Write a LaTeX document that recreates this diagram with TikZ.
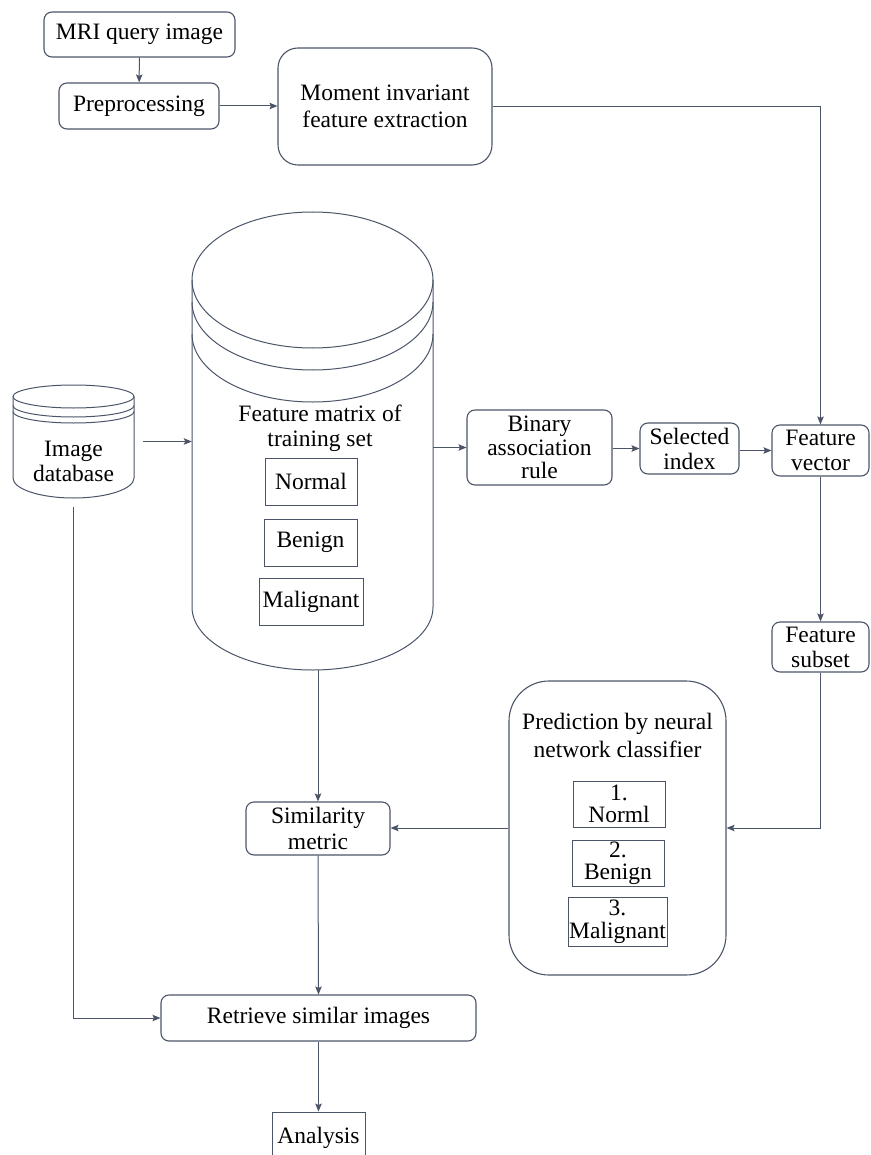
\documentclass[tikz,border=0pt]{standalone}
\usepackage{fontspec}
\setmainfont{Liberation Serif}
\newfontfamily\tnr{Liberation Serif}
\usetikzlibrary{arrows.meta}
\definecolor{ln}{HTML}{4B5567}
\begin{document}
\begin{tikzpicture}[x=1pt,y=-1pt,
  every node/.style={font=\tnr\fontsize{23.5}{25}\selectfont, inner sep=0pt, align=center},
  rbox/.style={draw=ln, line width=1.1pt, rounded corners=8pt},
  sbox/.style={draw=ln, line width=0.9pt},
  conn/.style={draw=ln, line width=1pt},
  arr/.style={conn, -{Stealth[length=8pt,width=6.5pt,inset=1.5pt]}},
  shp/.style={draw=ln, line width=1pt}]
\useasboundingbox (0,0) rectangle (870,1155);
\clip (0,0) rectangle (870,1155);

% top row
\node[rbox, minimum width=191pt, minimum height=45pt] (mri) at (139.5,34.5) {MRI query image};
\node[rbox, minimum width=160pt, minimum height=46pt] (pre) at (139,106) {Preprocessing};
\node[rbox, rounded corners=20pt, minimum width=214pt, minimum height=117pt, font=\tnr\fontsize{23.5}{27}\selectfont] (mom) at (385,106.5) {Moment invariant\\feature extraction};

% big cylinder
\node[minimum width=241pt, minimum height=458pt] (fm) at (312.5,441) {};
\draw[shp] (312.5,280) ellipse[x radius=120.5pt, y radius=68pt];
\draw[shp] (192,302) arc[start angle=180, end angle=360, x radius=120.5pt, y radius=68pt];
\draw[shp] (192,334) arc[start angle=180, end angle=360, x radius=120.5pt, y radius=68pt];
\draw[shp] (192,280) -- (192,607) arc[start angle=180, end angle=360, x radius=120.5pt, y radius=63pt] -- (433,280);
\node (fmt) at (320,428) {Feature matrix of\\training set};
\node[sbox, minimum width=92pt, minimum height=47pt] (norm) at (311,481.5) {Normal};
\node[sbox, minimum width=93pt, minimum height=47pt] (ben) at (310.5,542.5) {Benign};
\node[sbox, minimum width=104pt, minimum height=47pt] (mal) at (311,601.5) {Malignant};

% image database cylinder
\node[minimum width=121pt, minimum height=113pt] (db) at (73.5,441.5) {};
\draw[shp] (73.5,396.5) ellipse[x radius=60.5pt, y radius=11.5pt];
\draw[shp] (13,405.5) arc[start angle=180, end angle=360, x radius=60.5pt, y radius=11.5pt];
\draw[shp] (13,411.5) arc[start angle=180, end angle=360, x radius=60.5pt, y radius=11.5pt];
\draw[shp] (13,396.5) -- (13,478) arc[start angle=180, end angle=360, x radius=60.5pt, y radius=20pt] -- (134,396.5);
\node (dbt) at (73.5,461) {Image\\database};

% right chain
\node[rbox, minimum width=145pt, minimum height=75pt, font=\tnr\fontsize{23.5}{23.5}\selectfont] (bin) at (539.5,447.5) {Binary\\association\\rule};
\node[rbox, minimum width=99pt, minimum height=51pt] (sel) at (689.5,448.5) {Selected\\index};
\node[rbox, minimum width=97pt, minimum height=51pt] (fvec) at (820.5,450.5) {Feature\\vector};
\node[rbox, minimum width=97pt, minimum height=50pt] (fsub) at (820.5,647) {Feature\\subset};

% prediction
\node[rbox, rounded corners=40pt, minimum width=217pt, minimum height=294pt] (pred) at (617.5,828) {};
\node[font=\tnr\fontsize{23.5}{28}\selectfont] (predt) at (617.5,735) {Prediction by neural\\network classifier};
\node[sbox, minimum width=92pt, minimum height=46pt, font=\tnr\fontsize{23.5}{22.5}\selectfont] (c1) at (619,804) {1.\\Norml};
\node[sbox, minimum width=92pt, minimum height=46pt, font=\tnr\fontsize{23.5}{22.5}\selectfont] (c2) at (618,863) {2.\\Benign};
\node[sbox, minimum width=99pt, minimum height=49pt, font=\tnr\fontsize{23.5}{22.5}\selectfont] (c3) at (617.5,921.5) {3.\\Malignant};

% bottom
\node[rbox, minimum width=144pt, minimum height=53pt, font=\tnr\fontsize{23.5}{26}\selectfont] (sim) at (318,828.5) {Similarity\\metric};
\node[rbox, minimum width=315pt, minimum height=46pt] (ret) at (318.5,1018) {Retrieve similar images};
\node[sbox, minimum width=93pt, minimum height=52pt] (ana) at (318.5,1138) {Analysis};

% connectors
\draw[arr] (mri) -- (pre);
\draw[arr] (pre) -- (mom.west |- pre);
\draw[arr] (mom.east) -- (fvec.north |- mom.east) -- (fvec.north);
\draw[arr] ([xshift=9pt]db.east) -- (fm.west |- db.east);
\draw[arr] (fm.east |- bin.west) -- (bin.west);
\draw[arr] (bin.east |- sel.west) -- (sel.west);
\draw[arr] (sel.east |- fvec.west) -- (fvec.west);
\draw[arr] (fvec.south) -- (fsub.north);
\draw[arr] (fsub.south) -- (fsub.south |- pred.east) -- (pred.east);
\draw[arr] (pred.west) -- (sim.east |- pred.west);
\draw[arr] (sim.north |- fm.south) -- (sim.north);
\draw[arr] (sim.south) -- (ret.north);
\draw[arr] ([yshift=-9pt]db.south) -- (db.south |- ret.west) -- (ret.west);
\draw[arr] (ret.south) -- (ana.north);
\end{tikzpicture}
\end{document}
